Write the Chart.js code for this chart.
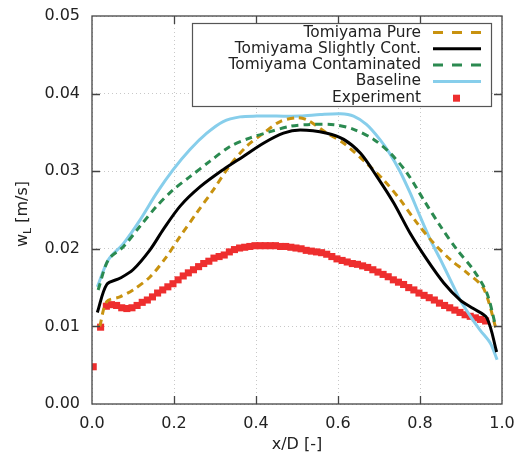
<!DOCTYPE html>
<html lang="en">
<head>
  <meta charset="UTF-8" />
  <title>Liquid velocity profile</title>
  <script src="https://cdn.jsdelivr.net/npm/chart.js"></script>
  <style>
    body { margin: 0; background: #fff; }
    #wrap { width: 521px; height: 458px; }
  </style>
</head>
<body>
  <div id="wrap">
    <canvas id="profileChart" width="521" height="458"></canvas>
  </div>

  <script>
    // x/D positions and w_L values
    const pureX = [0.019, 0.036, 0.068, 0.1, 0.142, 0.182, 0.215, 0.255, 0.296, 0.337, 0.377, 0.418, 0.459, 0.5,
      0.525, 0.573, 0.614, 0.67, 0.711, 0.752, 0.793, 0.834, 0.874, 0.915, 0.955, 0.987];
    const pureY = [0.0100, 0.0132, 0.0138, 0.0147, 0.0164, 0.0190, 0.0216, 0.0246, 0.0276, 0.0308, 0.0332, 0.0349, 0.0364, 0.0369,
      0.0366, 0.0349, 0.0336, 0.0310, 0.0289, 0.0263, 0.0233, 0.0207, 0.0186, 0.0169, 0.0149, 0.0094];

    const slightX = [0.013, 0.036, 0.068, 0.1, 0.142, 0.174, 0.215, 0.264, 0.32, 0.369, 0.418, 0.467, 0.508,
      0.573, 0.614, 0.655, 0.695, 0.736, 0.776, 0.817, 0.858, 0.898, 0.93, 0.963, 0.987];
    const slightY = [0.0118, 0.0154, 0.0162, 0.0173, 0.0199, 0.0225, 0.0255, 0.0280, 0.0302, 0.0319, 0.0336, 0.0349, 0.0353,
      0.0349, 0.0341, 0.0323, 0.0293, 0.0259, 0.0220, 0.0186, 0.0156, 0.0134, 0.0123, 0.0111, 0.0067];

    const contX = [0.015, 0.04, 0.077, 0.117, 0.158, 0.198, 0.239, 0.288, 0.337, 0.386, 0.435, 0.484, 0.525,
      0.59, 0.638, 0.687, 0.728, 0.768, 0.809, 0.85, 0.89, 0.93, 0.963, 0.985];
    const contY = [0.0147, 0.0186, 0.0203, 0.0229, 0.0255, 0.0276, 0.0293, 0.0313, 0.0332, 0.0343, 0.0351, 0.0358, 0.0360,
      0.0360, 0.0354, 0.0341, 0.0323, 0.0298, 0.0263, 0.0229, 0.0199, 0.0173, 0.0143, 0.0099];

    const baseX = [0.013, 0.04, 0.077, 0.117, 0.158, 0.198, 0.239, 0.28, 0.32, 0.361, 0.402, 0.45, 0.508,
      0.557, 0.606, 0.638, 0.67, 0.702, 0.726, 0.751, 0.776, 0.8, 0.825, 0.85, 0.874, 0.898, 0.923, 0.947, 0.972, 0.988];
    const baseY = [0.0151, 0.0186, 0.0207, 0.0237, 0.0272, 0.0302, 0.0328, 0.0349, 0.0364, 0.0370, 0.0371, 0.0371, 0.0371,
      0.0373, 0.0374, 0.0371, 0.0360, 0.0341, 0.0323, 0.0300, 0.0272, 0.0242, 0.0212, 0.0186, 0.0160, 0.0134, 0.0113, 0.0095, 0.0078, 0.0057];

    const expX = [0.003, 0.021,
      0.035, 0.0475, 0.06, 0.0725, 0.085, 0.0975, 0.11, 0.1225, 0.135, 0.1475,
      0.16, 0.1725, 0.185, 0.1975, 0.21, 0.2225, 0.235, 0.2475, 0.26, 0.2725,
      0.285, 0.2975, 0.31, 0.3225, 0.335, 0.3475, 0.36, 0.3725, 0.385, 0.3975,
      0.41, 0.4225, 0.435, 0.4475, 0.46, 0.4725, 0.485, 0.4975, 0.51, 0.5225,
      0.535, 0.5475, 0.56, 0.5725, 0.585, 0.5975, 0.61, 0.6225, 0.635, 0.6475,
      0.66, 0.6725, 0.685, 0.6975, 0.71, 0.7225, 0.735, 0.7475, 0.76, 0.7725,
      0.785, 0.7975, 0.81, 0.8225, 0.835, 0.8475, 0.86, 0.8725, 0.885, 0.8975,
      0.91, 0.9225, 0.935, 0.9475, 0.96];
    const expY = [0.0048, 0.0099,
      0.0126, 0.0128, 0.0127, 0.0124, 0.0123, 0.0124, 0.0127, 0.0131, 0.0134, 0.0138,
      0.0143, 0.0147, 0.0151, 0.0155, 0.0160, 0.0165, 0.0169, 0.0173, 0.0177, 0.0181,
      0.0184, 0.0188, 0.0190, 0.0192, 0.0196, 0.0199, 0.0201, 0.0202, 0.0203, 0.0204,
      0.0204, 0.0204, 0.0204, 0.0204, 0.0203, 0.0203, 0.0202, 0.0201, 0.0200, 0.0198,
      0.0197, 0.0196, 0.0195, 0.0193, 0.0190, 0.0187, 0.0185, 0.0183, 0.0181, 0.0180,
      0.0178, 0.0176, 0.0173, 0.0170, 0.0167, 0.0164, 0.0160, 0.0157, 0.0154, 0.0150,
      0.0147, 0.0143, 0.0140, 0.0137, 0.0134, 0.0130, 0.0127, 0.0124, 0.0121, 0.0118,
      0.0115, 0.0113, 0.0111, 0.0109, 0.0107];

    const xTicks = [0, 0.2, 0.4, 0.6, 0.8, 1.0];
    const yTicks = [0, 0.01, 0.02, 0.03, 0.04, 0.05];

    const pts = (xs, ys) => xs.map((x, i) => ({ x: x, y: ys[i] }));

    const GOLD = '#c8920f';
    const GREEN = '#2b8a50';
    const BLUE = '#87ceeb';
    const RED = '#ee2e2e';
    const FONT = '"DejaVu Sans", sans-serif';

    const legendItems = [
      { text: 'Tomiyama Pure', color: GOLD, dash: [10, 9] },
      { text: 'Tomiyama Slightly Cont.', color: '#000', dash: [] },
      { text: 'Tomiyama Contaminated', color: GREEN, dash: [10, 9] },
      { text: 'Baseline', color: BLUE, dash: [] },
      { text: 'Experiment', color: RED, point: true }
    ];

    // frame, inner ticks, legend box and y title with subscript
    const decorations = {
      id: 'decorations',
      afterDatasetsDraw(chart) {
        const c = chart.ctx;
        const a = chart.chartArea;
        const xs = chart.scales.x, ys = chart.scales.y;
        c.save();
        c.strokeStyle = '#444';
        c.lineWidth = 1.3;
        c.setLineDash([]);
        c.strokeRect(a.left, a.top, a.right - a.left, a.bottom - a.top);
        c.beginPath();
        xTicks.slice(1, -1).forEach(v => {
          const px = Math.round(xs.getPixelForValue(v)) + 0.5;
          c.moveTo(px, a.bottom); c.lineTo(px, a.bottom - 8);
          c.moveTo(px, a.top); c.lineTo(px, a.top + 8);
        });
        yTicks.slice(1, -1).forEach(v => {
          const py = Math.round(ys.getPixelForValue(v)) + 0.5;
          c.moveTo(a.left, py); c.lineTo(a.left + 8, py);
          c.moveTo(a.right, py); c.lineTo(a.right - 8, py);
        });
        c.stroke();

        // legend
        const bx = 192, by = 23, bw = 299, bh = 83;
        c.fillStyle = '#fff';
        c.fillRect(bx, by, bw, bh);
        c.strokeStyle = '#555';
        c.lineWidth = 1.2;
        c.strokeRect(bx + 0.5, by + 0.5, bw, bh);
        c.font = '15.4px ' + FONT;
        c.textAlign = 'right';
        c.textBaseline = 'middle';
        legendItems.forEach((it, i) => {
          const y = 32.5 + i * 16.3;
          c.fillStyle = '#222';
          c.fillText(it.text, 421, y);
          if (it.point) {
            c.fillStyle = it.color;
            c.fillRect(453, y - 3, 7, 7);
          } else {
            c.strokeStyle = it.color;
            c.lineWidth = 3;
            c.setLineDash(it.dash);
            c.beginPath();
            c.moveTo(433, y); c.lineTo(481, y);
            c.stroke();
            c.setLineDash([]);
          }
        });

        // y axis title: w_L [m/s]
        c.translate(23, 214);
        c.rotate(-Math.PI / 2);
        c.fillStyle = '#222';
        c.textAlign = 'left';
        c.textBaseline = 'middle';
        c.font = '16px ' + FONT;
        const w1 = c.measureText('w').width;
        c.font = '11px ' + FONT;
        const w2 = c.measureText('L').width;
        c.font = '16px ' + FONT;
        const w3 = c.measureText(' [m/s]').width;
        let x0 = -(w1 + w2 + w3) / 2;
        c.fillText('w', x0, 0);
        c.font = '11px ' + FONT;
        c.fillText('L', x0 + w1, 5);
        c.font = '16px ' + FONT;
        c.fillText(' [m/s]', x0 + w1 + w2, 0);
        c.restore();
      }
    };

    // drop the label overhang so layout padding alone sets the plot edges
    const noOverhang = s => {
      s.paddingLeft = 0; s.paddingRight = 0; s.paddingTop = 0; s.paddingBottom = 0;
    };

    const ctx = document.getElementById('profileChart').getContext('2d');
    const profileChart = new Chart(ctx, {
      type: 'scatter',
      data: {
        datasets: [
          {
            label: 'Experiment', data: pts(expX, expY), showLine: false,
            pointStyle: 'rect', pointRadius: 5, pointBackgroundColor: RED, pointBorderWidth: 0, order: 5
          },
          {
            label: 'Tomiyama Pure', data: pts(pureX, pureY), showLine: true, borderColor: GOLD,
            borderWidth: 3, borderDash: [7, 5], pointRadius: 0, tension: 0.3, order: 3
          },
          {
            label: 'Tomiyama Contaminated', data: pts(contX, contY), showLine: true, borderColor: GREEN,
            borderWidth: 3, borderDash: [7, 5], pointRadius: 0, tension: 0.3, order: 2
          },
          {
            label: 'Baseline', data: pts(baseX, baseY), showLine: true, borderColor: BLUE,
            borderWidth: 3, pointRadius: 0, tension: 0.3, order: 4
          },
          {
            label: 'Tomiyama Slightly Cont.', data: pts(slightX, slightY), showLine: true, borderColor: '#000',
            borderWidth: 3, pointRadius: 0, tension: 0.3, order: 1
          }
        ]
      },
      options: {
        responsive: false,
        animation: false,
        layout: { padding: { top: 16, right: 19, left: 0, bottom: 0 } },
        plugins: {
          legend: { display: false },
          tooltip: { enabled: false }
        },
        scales: {
          x: {
            type: 'linear', min: 0, max: 1,
            afterBuildTicks: s => { s.ticks = xTicks.map(v => ({ value: v })); },
            afterFit: s => { s.height = 54; noOverhang(s); },
            ticks: {
              color: '#222', padding: 10, font: { family: FONT, size: 16 },
              callback: v => v.toFixed(1)
            },
            grid: { color: '#c8c8c8', lineWidth: 1, drawTicks: false },
            border: { display: false, dash: [1, 3] },
            title: {
              display: true, text: 'x/D [-]', color: '#222',
              font: { family: FONT, size: 16 }, padding: { top: 4 }
            }
          },
          y: {
            type: 'linear', min: 0, max: 0.05,
            afterBuildTicks: s => { s.ticks = yTicks.map(v => ({ value: v })); },
            afterFit: s => { s.width = 92; noOverhang(s); },
            ticks: {
              color: '#222', padding: 12, font: { family: FONT, size: 16 },
              callback: v => v.toFixed(2)
            },
            grid: { color: '#c8c8c8', lineWidth: 1, drawTicks: false },
            border: { display: false, dash: [1, 3] }
          }
        }
      },
      plugins: [decorations]
    });
  </script>
</body>
</html>
